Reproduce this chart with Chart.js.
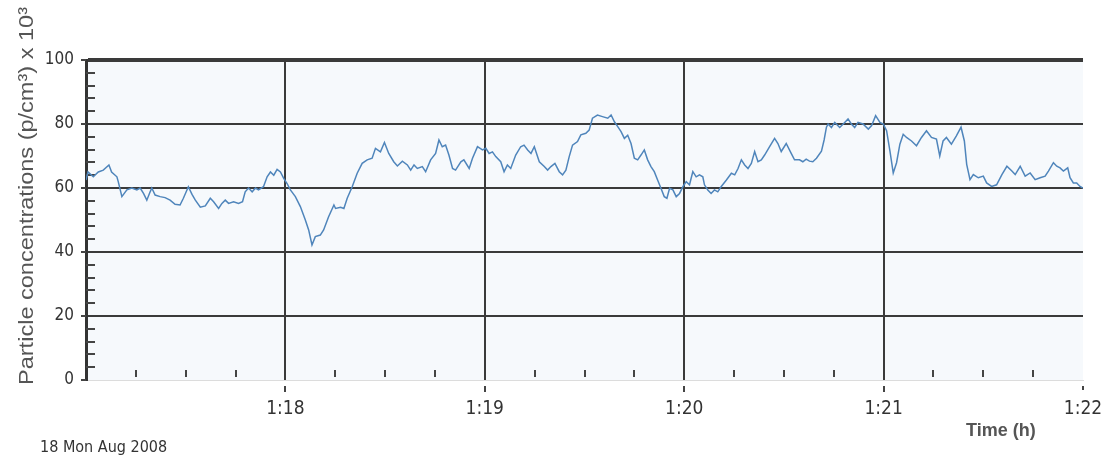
<!DOCTYPE html>
<html>
<head>
<meta charset="utf-8">
<script src="https://cdn.jsdelivr.net/npm/chart.js@4.4.1/dist/chart.umd.min.js"></script>
<style>
  html, body { margin: 0; padding: 0; background: #ffffff; }
  canvas { display: block; }
</style>
</head>
<body>
<canvas id="c" width="1105" height="469"></canvas>
<script>
// ---- Data (seconds after 1:17:00, particle concentration x 10^3 p/cm^3) ----
const timeSec = [
  0,0.6,2.2,3.7,5.2,6.9,7.7,9.3,9.7,10.8, 12.3,13.8,15.3,16.3,17.3,18.3,19.3,19.8,20.8,22.3,
  23.8,25.3,26.8,28.3,29.3,30.8,31.9,32.9,34.4,35.9, 37.4,38.4,39.9,40.9,41.9,42.9,44.4,45.9,47.1,47.9,
  48.9,50,51,51.9,53.4,54.5,55.5,56.5,57.5,58.5, 59.5,60.5,61.5,63,64.5,66,67,68,69,70.5,
  71.5,73,74.6,
  75.1,76.6,77.6,78.6,80.1,81.6,83.1,84.6,86.1,87.1, 88.6,89.8,91.1,92.6,93.7,95.2,96.7,97.7,98.7,99.7,
  101.2,102.2,103.7,105.2,106.2,107.2,108.2,109.2,110.3,111.2, 112.8,113.7,115.3,116.3,117.8,119.3,120.3,121.3,122.3,123.3,
  124.8,125.8,126.8,127.8,129.3,130.8,131.8,132.9,133.9,134.9, 136.4,137.9,138.9,139.9,141.1,142.4,143.4,144.4,145.4,146.4,
  147.9,
  148.9,150.4,151.4,152.4,153.9,155.4,157,158,159,160, 161,162,163,164,165,166,167,168,169,170,
  171,172,173,174,174.8,175.6,176.6,177.6,178.6,179.6, 180.6,181.6,182.6,183.6,184.6,185.6,186.1,187.1,188.1,189.1,
  190.1,191.1,192.7,194.2,195.2,196.2,197.2,198.2,199.2,200.2, 201.2,202.2,203.2,204.2,205.7,207.2,208.2,209.2,210.7,212.2,
  213.2,214.7,215.7,216.7,217.7,218.7,219.8,221.3,222.1,222.8,
  223.3,224.3,225.3,226.8,228.3,229.3,230.3,231.3,232.3,233.8, 235.4,236.4,237.6,238.9,239.9,240.9,241.9,242.9,243.9,244.9,
  245.9,246.9,248.4,249.9,251.4,252.9,254.4,255.9,256.9,257.9, 258.9,260.4,261.9,263.3,264.3,265,266,267,268.5,270,
  271,272.5,274,275.6,277.1,278.6,279.6,281.1,282.6,284.1, 285.6,287.1,288.6,289.6,291.1,292.1,293.1,294.1,295.4,296.1,
  297.1,298.1,299.1,300
];
const concentration = [
  62.5,65,63.5,65,65.6,67.2,65,63.5,62,57.3, 59.4,60,59.4,60,58.3,56.2,58.8,60,57.8,57.3,
  57,56.2,54.9,54.7,56.8,60.4,58,56.2,54,54.4, 56.8,55.7,53.6,55.2,56.2,55.2,55.7,55.2,55.7,58.8,
  60,58.8,60,59.4,60.4,63.5,65,64,65.8,65, 63,61.4,59.4,57.3,54.2,50,46.9,42.2,44.8,45.3,
  46.9,51,54.7,
  53.6,54,53.6,56.8,60.4,64.6,67.7,68.8,69.3,72.4, 71.3,74.2,70.8,68.2,66.9,68.4,67.2,65.6,67.2,66.1,
  66.7,65.1,68.8,70.8,75,72.9,73.4,70.3,66.1,65.6, 68.2,68.8,66.1,69.3,72.9,71.9,72.4,70.8,71.3,69.8,
  68.2,65.1,67.2,66.1,70.3,72.9,73.4,71.9,70.8,72.9, 68.2,66.7,65.6,66.7,67.7,65.1,64.1,65.6,69.8,73.4,
  74.5,
  76.6,77.1,78.1,81.8,82.8,82.3,81.8,82.8,80.7,79.2, 77.6,75.5,76.5,73.9,69.3,68.8,70.3,71.9,68.8,66.7,
  65.1,62.5,59.9,57.3,56.8,59.9,59.4,57.3,58.3,60.4, 62,61,65.1,63.5,64.1,63.5,61,59.4,58.3,59.4,
  58.8,60.4,62.5,64.6,64.1,66.1,68.8,67.2,66.1,67.7, 71.4,68.2,68.8,70.3,72.9,75.5,73.9,71.4,73.9,70.8,
  68.8,68.8,68.2,69,68.4,68.2,69.3,71.5,75,79,
  80,78.9,80.5,78.9,80.5,81.6,80,78.9,80.5,80, 78.4,79.5,82.6,80.5,80,77.9,71.6,64.7,67.9,73.7,
  76.8,75.8,74.7,73.2,75.8,77.9,75.8,75.3,70,74.7, 75.8,73.7,76.3,79,74.7,67.4,62.6,64.2,63.2,63.7,
  61.6,60.5,61,64.2,66.8,65.3,64.2,66.8,63.7,64.7, 62.6,63.2,63.7,65.3,67.9,66.8,66.3,65.3,66.3,63.2,
  61.6,61.6,60.5,60
];
const xTickLabels = ['1:18', '1:19', '1:20', '1:21', '1:22']; // at 60,120,180,240,300 s
const yTickLabels = ['0', '20', '40', '60', '80', '100'];
const yTitle = 'Particle concentrations (p/cm\u00B3) x 10\u00B3';
const xTitle = 'Time (h)';
const dateLabel = '18 Mon Aug 2008';

const NARROW = "'Liberation Sans Narrow', 'Arial Narrow', 'DejaVu Sans Condensed', 'Liberation Sans', sans-serif";
const GRID = '#3a3a3a';

const decorPlugin = {
  id: 'decor',
  beforeDraw(chart) {
    const { ctx, chartArea: a } = chart;
    ctx.save();
    ctx.fillStyle = '#ffffff';
    ctx.fillRect(0, 0, chart.width, chart.height);
    ctx.fillStyle = '#f6f9fc';
    ctx.fillRect(a.left, a.top, a.right - a.left, a.bottom - a.top);
    ctx.restore();
  },
  beforeDatasetsDraw(chart) {
    const { ctx, chartArea: a, scales } = chart;
    const xs = scales.x, ys = scales.y;
    ctx.save();
    ctx.strokeStyle = '#444';
    ctx.lineWidth = 2;
    for (let v = 0; v <= 100; v += 4) {
      const y = Math.round(ys.getPixelForValue(v));
      ctx.beginPath();
      if (v % 20 !== 0) {
        ctx.moveTo(a.left, y); ctx.lineTo(a.left + 9, y);
      } else {
        ctx.moveTo(a.left - 5, y); ctx.lineTo(a.left, y);
      }
      ctx.stroke();
    }
    for (let t = 15; t < 300; t += 15) {
      const x = Math.round(xs.getPixelForValue(t));
      ctx.beginPath();
      if (t % 60 !== 0) {
        ctx.moveTo(x, a.bottom - 10); ctx.lineTo(x, a.bottom - 3);
      } else {
        ctx.moveTo(x, a.bottom + 6); ctx.lineTo(x, a.bottom + 12);
      }
      ctx.stroke();
    }
    const x300 = Math.round(xs.getPixelForValue(300));
    ctx.beginPath(); ctx.moveTo(x300, a.bottom + 6); ctx.lineTo(x300, a.bottom + 10); ctx.stroke();
    ctx.restore();
  },
  afterDraw(chart) {
    const { ctx } = chart;
    ctx.save();
    ctx.translate(27, 385);
    ctx.rotate(-Math.PI / 2);
    ctx.font = "20px 'Liberation Sans', Arial, sans-serif";
    ctx.fillStyle = '#555';
    ctx.textBaseline = 'middle';
    ctx.textAlign = 'left';
    const w = ctx.measureText(yTitle).width;
    ctx.scale(378 / w, 1);
    ctx.fillText(yTitle, 0, 0);
    ctx.restore();

    ctx.save();
    ctx.fillStyle = '#555';
    ctx.textBaseline = 'alphabetic';
    ctx.font = "bold 18px 'Liberation Sans', Arial, sans-serif";
    ctx.fillText(xTitle, 966, 436);
    ctx.fillStyle = '#333';
    ctx.font = "16px " + NARROW;
    ctx.fillText(dateLabel, 40, 452);
    ctx.restore();
  }
};

new Chart(document.getElementById('c').getContext('2d'), {
  type: 'line',
  data: {
    datasets: [{
      data: timeSec.map((t, i) => ({ x: t, y: concentration[i] })),
      borderColor: '#4f85bb',
      borderWidth: 1.5,
      pointRadius: 0,
      tension: 0,
      fill: false
    }]
  },
  options: {
    responsive: false,
    animation: false,
    devicePixelRatio: 1,
    layout: { padding: { top: 60, right: 22, bottom: 0, left: 0 } },
    plugins: { legend: { display: false }, tooltip: { enabled: false } },
    scales: {
      x: {
        type: 'linear', min: 0, max: 300,
        afterFit(s) { s.height = 89; s.paddingRight = 0; s.paddingLeft = 0; },
        ticks: {
          stepSize: 15, autoSkip: false, maxRotation: 0, minRotation: 0,
          padding: 18, color: '#333',
          font: { family: NARROW, size: 19 },
          callback: v => (v % 60 === 0 && v > 0) ? xTickLabels[v / 60 - 1] : ''
        },
        grid: {
          drawTicks: false,
          color: c => (c.tick && c.tick.value % 60 === 0 && c.tick.value > 0 && c.tick.value < 300) ? GRID : 'rgba(0,0,0,0)',
          lineWidth: 2
        },
        border: { display: true, color: '#dcdcdc', width: 1 }
      },
      y: {
        min: 0, max: 100,
        afterFit(s) { s.width = 86; s.paddingTop = 0; s.paddingBottom = 0; },
        ticks: {
          stepSize: 4, autoSkip: false, padding: 12, color: '#333',
          font: { family: NARROW, size: 17 },
          callback: v => (v % 20 === 0) ? yTickLabels[v / 20] : ''
        },
        grid: {
          drawTicks: false,
          color: c => (c.tick && c.tick.value % 20 === 0 && c.tick.value > 0) ? GRID : 'rgba(0,0,0,0)',
          lineWidth: c => (c.tick && c.tick.value === 100) ? 4 : 2
        },
        border: { display: true, color: '#333', width: 3 }
      }
    }
  },
  plugins: [decorPlugin]
});
</script>
</body>
</html>
